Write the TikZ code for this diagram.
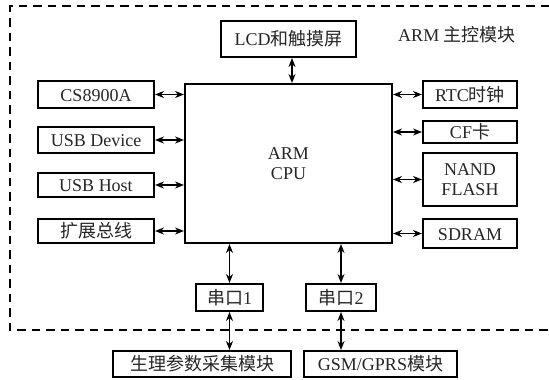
\documentclass[tikz,border=0pt]{standalone}
\usepackage{fontspec}
\setmainfont{Liberation Serif}
\newfontfamily\cjk{Noto Sans CJK SC}
\usetikzlibrary{arrows.meta}
\begin{document}
\begin{tikzpicture}[x=1pt,y=-1pt,
  box/.style={draw=black, line width=2pt, inner sep=0pt, align=center,
    font=\fontsize{18}{20}\selectfont, text=black!85},
  one/.style={box, text height=13pt, text depth=0pt},
  arr/.style={line width=1.6pt, {Stealth[length=9pt,width=7pt]}-{Stealth[length=9pt,width=7pt]}},
  frame/.style={line width=1.7pt, dash pattern=on 8.5pt off 6pt}]
\useasboundingbox (0,0) rectangle (549,380);
\fill[white] (0,0) rectangle (549,380);
% dashed frame (right side runs off the picture)
\draw[frame] (549,6) -- (10,6) -- (10,330) -- (549,330);
\node[font=\fontsize{18}{20}\selectfont, text=black!85] (title) at (457,35) {ARM {\cjk 主控模块}};
% boxes
\node[one, minimum width=135pt, minimum height=36pt] (lcd) at (288.5,39) {LCD{\cjk 和触摸屏}};
\node[box, minimum width=207pt, minimum height=159pt] (cpu) at (288.5,163.5) {ARM\\CPU};
\node[one, minimum width=116pt, minimum height=27pt] (cs) at (96,94.5) {CS8900A};
\node[one, minimum width=116pt, minimum height=26pt] (usbd) at (96,140) {USB Device};
\node[one, minimum width=116pt, minimum height=24pt] (usbh) at (96,185) {USB Host};
\node[one, minimum width=116pt, minimum height=24pt] (ext) at (96,231) {\cjk 扩展总线};
\node[one, minimum width=94pt, minimum height=27pt] (rtc) at (470,94.5) {RTC{\cjk 时钟}};
\node[one, minimum width=94pt, minimum height=22pt] (cf) at (470,132) {CF{\cjk 卡}};
\node[box, minimum width=94pt, minimum height=53pt] (nand) at (470,179.5) {NAND\\FLASH};
\node[one, minimum width=94pt, minimum height=29pt] (sdram) at (470,233.5) {SDRAM};
\node[one, minimum width=67pt, minimum height=27pt] (s1) at (229.5,297.5) {{\cjk 串口}1};
\node[one, minimum width=70pt, minimum height=27pt] (s2) at (341,297.5) {{\cjk 串口}2};
\node[one, minimum width=178pt, minimum height=26pt] (bio) at (202,364) {\cjk 生理参数采集模块};
\node[one, minimum width=153pt, minimum height=26pt] (gsm) at (380.5,364) {GSM/GPRS{\cjk 模块}};
% connectors
\draw[arr] ([xshift=3.5pt]lcd.south) -- ([xshift=3.5pt]lcd.south |- cpu.north);
\draw[arr] (cs.east) -- (cs.east -| cpu.west);
\draw[arr] (usbd.east) -- (usbd.east -| cpu.west);
\draw[arr] (usbh.east) -- (usbh.east -| cpu.west);
\draw[arr] (ext.east) -- (ext.east -| cpu.west);
\draw[arr] (rtc.west -| cpu.east) -- (rtc.west);
\draw[arr] (cf.west -| cpu.east) -- (cf.west);
\draw[arr] (nand.west -| cpu.east) -- (nand.west);
\draw[arr] (sdram.west -| cpu.east) -- (sdram.west);
\draw[arr] (s1.north |- cpu.south) -- (s1.north);
\draw[arr] (s1.south) -- (s1.south |- bio.north);
\draw[arr] (s2.north |- cpu.south) -- (s2.north);
\draw[arr] (s2.south) -- (s2.south |- gsm.north);
\end{tikzpicture}
\end{document}
